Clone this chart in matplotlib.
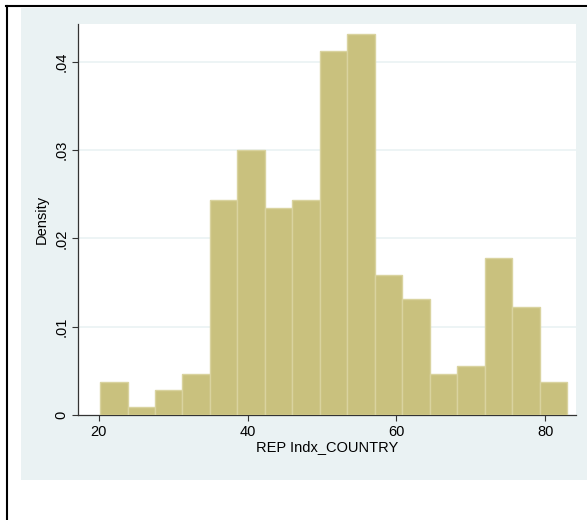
import numpy as np
import matplotlib.pyplot as plt
from matplotlib.patches import Rectangle
from matplotlib.lines import Line2D

plt.rcParams['font.family'] = ['Liberation Sans', 'DejaVu Sans']

# histogram of REP index by country (density scale)
bin_start = 20.18
bin_width = 3.69
density = [0.0037, 0.0009, 0.0028, 0.0046, 0.0243, 0.0300, 0.0234, 0.0243, 0.0412,
           0.0431, 0.0159, 0.0131, 0.0046, 0.0056, 0.0178, 0.0122, 0.0037]
x_ticks = [20, 40, 60, 80]
y_ticks = [0, 0.01, 0.02, 0.03, 0.04]
y_labels = ['0', '.01', '.02', '.03', '.04']

fig = plt.figure(figsize=(5.87, 5.2), dpi=100)
fig.patch.set_facecolor('white')

# graph region
fig.patches.append(Rectangle((21 / 587, 40 / 520), 566 / 587, 472 / 520,
                             transform=fig.transFigure, facecolor='#eaf2f3',
                             edgecolor='none', zorder=-5))
# frame lines on top and left
fig.lines.append(Line2D([6 / 587, 1], [514 / 520, 514 / 520], transform=fig.transFigure,
                        color='black', lw=1.5, zorder=-4))
fig.lines.append(Line2D([7 / 587, 7 / 587], [0, 514 / 520], transform=fig.transFigure,
                        color='black', lw=1.5, zorder=-4))

ax = fig.add_axes([78 / 587, 105 / 520, 498 / 587, 391 / 520])
ax.set_zorder(1)
ax.set_facecolor('white')

left_edges = bin_start + bin_width * np.arange(len(density))
ax.bar(left_edges, density, width=bin_width, align='edge',
       color='#c9c17e', edgecolor='#d9d39f', linewidth=1.0, zorder=3)

ax.set_xlim(17.22, 84.12)
ax.set_ylim(0, 0.04427)

ax.set_xticks(x_ticks)
ax.set_yticks(y_ticks)
ax.set_yticklabels(y_labels, rotation=90, va='center')
ax.tick_params(axis='both', labelsize=10.5, length=4, width=0.8, color='#333333',
               labelcolor='black')
ax.tick_params(axis='y', pad=3)
ax.tick_params(axis='x', pad=3)

for v in y_ticks[1:]:
    ax.axhline(v, color='#eaf2f3', lw=1.2, zorder=1)

for side in ['top', 'right']:
    ax.spines[side].set_visible(False)
for side in ['left', 'bottom']:
    ax.spines[side].set_color('#333333')
    ax.spines[side].set_linewidth(0.9)

ax.set_xlabel('REP Indx_COUNTRY', fontsize=10.5, labelpad=1)
ax.set_ylabel('Density', fontsize=10.5, labelpad=4)

fig.savefig('out.png', dpi=100)
